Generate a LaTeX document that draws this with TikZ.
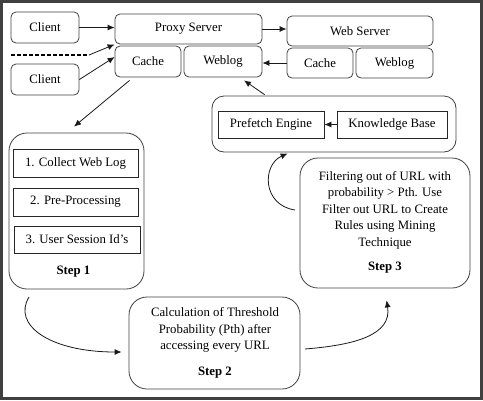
\documentclass[tikz,border=0pt]{standalone}
\usepackage{fontspec}
\setmainfont{Liberation Serif}
\usetikzlibrary{arrows.meta,calc}
\begin{document}
\begin{tikzpicture}[x=1pt,y=-1pt,
  font=\fontsize{12.8}{16.5}\selectfont,
  rbox/.style={draw=black!75, line width=0.8pt, rounded corners=5pt, inner sep=0pt, align=center},
  sbox/.style={draw=black!85, line width=0.8pt, inner sep=0pt, align=center},
  bigbox/.style={draw=black!75, line width=0.8pt, rounded corners=18pt, inner sep=0pt},
  txt/.style={inner sep=0pt, align=center},
  arr/.style={draw=black!90, line width=0.8pt, -{Latex[length=7pt,width=6pt]}}]
\useasboundingbox (0,0) rectangle (483,400);
\draw[line width=3pt, draw=black!75] (1.5,1.5) rectangle (481.5,398.5);
% top row
\node[rbox, minimum width=68pt, minimum height=31pt] (client1) at (45,27.5) {Client};
\node[rbox, minimum width=68pt, minimum height=31pt] (client2) at (45,79.5) {Client};
\node[rbox, minimum width=147pt, minimum height=30pt] (proxy) at (188.5,29) {Proxy Server};
\node[rbox, minimum width=66pt, minimum height=31pt] (cache) at (148,61.5) {Cache};
\node[rbox, minimum width=78pt, minimum height=31pt] (weblog) at (223,61.5) {Weblog};
\node[rbox, minimum width=146pt, minimum height=30pt] (webserver) at (360,31) {Web Server};
\node[rbox, minimum width=66pt, minimum height=30pt] (cache2) at (320,63) {Cache};
\node[rbox, minimum width=77pt, minimum height=30pt] (weblog2) at (394.5,63) {Weblog};
% prefetch
\node[draw=black!75, line width=0.8pt, rounded corners=12pt, minimum width=244pt, minimum height=56pt, inner sep=0pt] (pfo) at (334,124) {};
\node[sbox, minimum width=106pt, minimum height=27pt] (pe) at (271,124.5) {Prefetch Engine};
\node[sbox, minimum width=110pt, minimum height=27pt] (kb) at (392,124.5) {Knowledge Base};
% step 1
\node[bigbox, minimum width=135pt, minimum height=156pt] (step1) at (76.5,211) {};
\node[sbox, minimum width=125pt, minimum height=28pt] (s1a) at (75.5,163) {1. Collect Web Log};
\node[sbox, minimum width=125pt, minimum height=28pt] (s1b) at (75.5,202) {2. Pre-Processing};
\node[sbox, minimum width=126pt, minimum height=27pt] (s1c) at (77,239.5) {3. User Session Id’s};
\node[txt, font=\fontsize{12.8}{16.5}\selectfont\bfseries] (l1) at (73.5,272) {Step 1};
% step 2
\node[bigbox, minimum width=171pt, minimum height=92pt] (step2) at (214.5,343) {};
\node[txt] (t2) at (215,330) {Calculation of Threshold\\Probability (Pth) after\\accessing every URL};
\node[txt, font=\fontsize{12.8}{16.5}\selectfont\bfseries] (l2) at (215,373) {Step 2};
% step 3
\node[bigbox, minimum width=170pt, minimum height=130pt] (step3) at (385,223) {};
\node[txt] (t3) at (385,210) {Filtering out of URL with\\probability > Pth. Use\\Filter out URL to Create\\Rules using Mining\\Technique};
\node[txt, font=\fontsize{12.8}{16.5}\selectfont\bfseries] (l3) at (385,268) {Step 3};
% connectors
\coordinate (d1) at (11,55);
\coordinate (d2) at (89,55);
\draw[line width=1.6pt, dash pattern=on 4pt off 2pt] (d1) -- (d2);
\draw[arr] (d2) -- (proxy.south west);
\draw[arr] (client1.east) -- (client1.east -| proxy.west);
\draw[arr] (client2.east) -- ($(cache.west)+(0,-4.5)$);
\draw[arr] ($(cache.south west)+(15,3)$) -- ($(step1.north)+(-2.5,-6)$);
\draw[arr] (proxy.east) -- (proxy.east -| webserver.west);
\draw[arr] (cache2.west) -- (cache2.west -| weblog.east);
\draw[arr] ($(pfo.north west)+(53,-1)$) -- ($(weblog.south)+(21,3)$);
\draw[arr] (kb.west) -- (pe.east);
\coordinate (c1) at (29,297);
\draw[arr] (c1) .. controls (12,325) and (50,352) .. ($(step2.west)+(-7,9)$);
\coordinate (c2) at (305,349);
\draw[arr] (c2) .. controls (355,345) and (392,335) .. ($(step3.south west)+(87,12)$);
\coordinate (c3) at (295,210);
\draw[arr] (c3) .. controls (262,205) and (262,165) .. ($(pfo.south west)+(76,1)$);
\end{tikzpicture}
\end{document}
